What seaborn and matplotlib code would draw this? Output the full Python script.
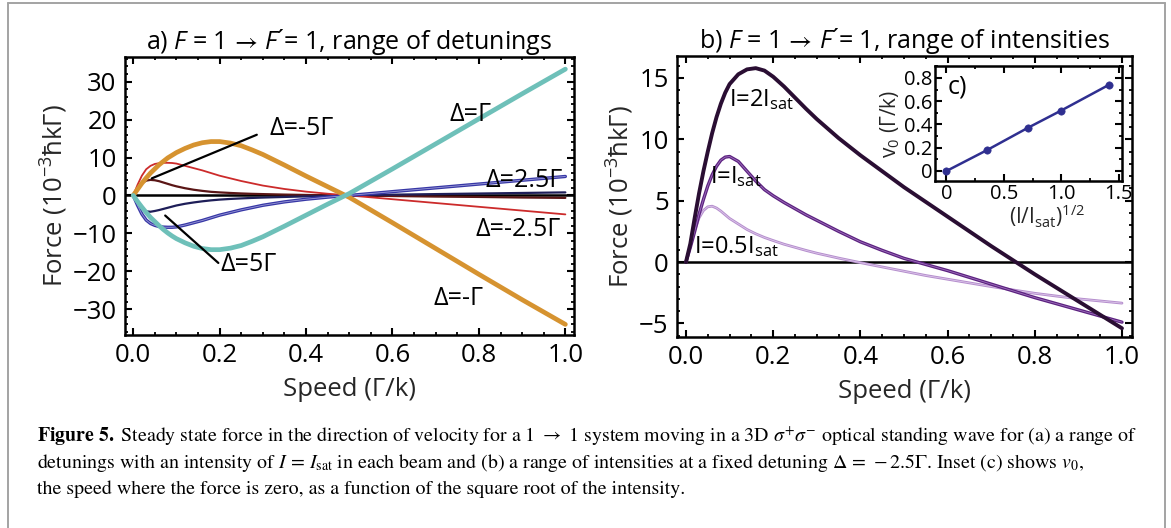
import numpy as np
import pandas as pd
import matplotlib
matplotlib.use("Agg")
import matplotlib.pyplot as plt
import seaborn as sns
from matplotlib.lines import Line2D
from matplotlib.ticker import MultipleLocator, FuncFormatter

# ---------------- data ----------------
# (a) force vs speed for several detunings, I = Isat
speed_a = [0, 0.01, 0.02, 0.03, 0.04, 0.05, 0.06, 0.07, 0.08, 0.09, 0.1, 0.12, 0.14,
           0.16, 0.18, 0.2, 0.225, 0.25, 0.275, 0.3, 0.35, 0.4, 0.45, 0.5,
           0.6, 0.7, 0.8, 0.9, 1.0]
force_det_m1 = [0, 1.6, 3.2, 4.6, 5.9, 7.0, 8.1, 9.0, 9.9, 10.6, 11.3, 12.4, 13.3,
                13.9, 14.2, 14.2, 13.8, 13.1, 12.0, 10.8, 8.0, 5.1, 2.3, -0.5,
                -7.2, -14.0, -20.8, -27.5, -34.0]
force_det_p1 = [0, -1.6, -3.1, -4.5, -5.8, -6.9, -8.0, -9.0, -9.9, -10.7, -11.4, -12.5, -13.4,
                -14.0, -14.3, -14.3, -13.9, -13.2, -12.1, -10.9, -8.1, -5.2, -2.3, 0.5,
                7.0, 13.6, 20.2, 26.8, 33.3]
force_det_m25 = [0, 2.8, 5.2, 6.9, 7.8, 8.3, 8.5, 8.6, 8.6, 8.55, 8.4, 7.8, 7.2,
                 6.6, 5.9, 5.2, 4.5, 3.8, 3.2, 2.6, 1.7, 1.0, 0.45, 0.0,
                 -1.0, -2.0, -3.0, -4.0, -5.0]
force_det_p25 = [0, -2.6, -4.9, -6.5, -7.4, -7.9, -8.2, -8.35, -8.4, -8.4, -8.3, -7.8, -7.2,
                 -6.6, -5.9, -5.2, -4.5, -3.8, -3.2, -2.6, -1.7, -1.0, -0.45, 0.0,
                 1.0, 2.0, 3.0, 4.0, 5.0]
force_det_m5 = [0, 1.8, 3.2, 3.9, 4.1, 4.0, 3.75, 3.4, 3.05, 2.7, 2.4, 1.9, 1.5,
                1.2, 0.95, 0.8, 0.65, 0.52, 0.42, 0.35, 0.22, 0.12, 0.05, 0.0,
                -0.15, -0.3, -0.4, -0.55, -0.65]
force_det_p5 = [0, -2.0, -3.5, -4.2, -4.3, -4.1, -3.85, -3.55, -3.25, -2.95, -2.65, -2.2, -1.85,
                -1.55, -1.3, -1.1, -0.92, -0.78, -0.66, -0.56, -0.4, -0.25, -0.12, 0.0,
                0.2, 0.35, 0.5, 0.65, 0.8]

# (b) force vs speed for several intensities, detuning -2.5 Gamma
speed_b = [0, 0.01, 0.02, 0.03, 0.04, 0.05, 0.06, 0.07, 0.08, 0.09, 0.1, 0.12, 0.14,
           0.16, 0.18, 0.2, 0.225, 0.25, 0.275, 0.3, 0.35, 0.4, 0.45, 0.5, 0.55,
           0.6, 0.7, 0.8, 0.9, 1.0]
force_int_2 = [0, 1.5, 3.6, 5.6, 7.4, 9.0, 10.5, 11.8, 12.9, 13.8, 14.5, 15.3, 15.7,
               15.8, 15.6, 15.1, 14.3, 13.4, 12.5, 11.65, 10.1, 8.7, 7.4, 6.1, 4.9,
               3.7, 1.3, -1.0, -3.2, -5.4]
force_int_1 = [0, 1.2, 2.5, 3.9, 5.1, 6.2, 7.1, 7.8, 8.3, 8.55, 8.6, 8.2, 7.4,
               6.6, 5.9, 5.4, 4.85, 4.35, 3.85, 3.4, 2.5, 1.65, 0.95, 0.3, -0.2,
               -0.7, -1.8, -2.9, -3.9, -4.9]
force_int_05 = [0, 1.3, 2.6, 3.6, 4.2, 4.5, 4.55, 4.4, 4.15, 3.85, 3.55, 3.1, 2.65,
                2.3, 2.0, 1.75, 1.45, 1.2, 0.95, 0.72, 0.32, -0.05, -0.4, -0.75, -1.1,
                -1.4, -2.0, -2.55, -3.0, -3.35]

# (c) zero-force speed vs square root of intensity
sqrt_intensity = [0.0, 0.354, 0.707, 1.0, 1.414]
v_zero = [0.0, 0.18, 0.37, 0.52, 0.74]

# ---------------- style ----------------
sns.set_theme(style="ticks")
plt.rcParams["font.family"] = ["Open Sans", "DejaVu Sans"]
plt.rcParams.update({
    "mathtext.fontset": "custom",
    "mathtext.rm": "Open Sans",
    "mathtext.it": "Open Sans:italic",
    "mathtext.bf": "Open Sans:bold",
    "mathtext.fallback": "stixsans",
    "axes.linewidth": 1.8,
    "axes.edgecolor": "black",
    "xtick.direction": "in", "ytick.direction": "in",
    "xtick.top": True, "ytick.right": True,
    "xtick.major.size": 5, "ytick.major.size": 5,
    "xtick.minor.size": 2.5, "ytick.minor.size": 2.5,
    "xtick.major.width": 1.5, "ytick.major.width": 1.5,
    "xtick.minor.width": 1.3, "ytick.minor.width": 1.3,
    "xtick.color": "black", "ytick.color": "black",
    "text.color": "black",
    "lines.solid_joinstyle": "round",
    "lines.solid_capstyle": "round",
})

W, H = 1171, 528
fig = plt.figure(figsize=(W / 100, H / 100), dpi=100)


def box(l, t, r, b):
    return [l / W, 1 - b / H, (r - l) / W, (b - t) / H]


ax_a = fig.add_axes(box(125, 57, 574, 335))
ax_b = fig.add_axes(box(677, 56, 1132, 337))
ax_c = fig.add_axes(box(935, 66, 1122, 181))

TICK_FS = 18.5
LABEL_FS = 18.5
TITLE_FS = 18


def minus_fmt(fmt):
    return FuncFormatter(lambda v, p: (fmt % v).replace("-", "\u2212"))


def title_text(tag, tail):
    return ("%s) $\\mathit{F}$ = 1 $\\!\\rightarrow\\!$ $\\mathit{F\u00b4}$= $\\mathit{1}$, "
            "range of %s" % (tag, tail))


# ---------------- panel a ----------------
df_a = pd.DataFrame({"speed": speed_a * 6,
                     "force": force_det_m1 + force_det_p1 + force_det_m25 + force_det_p25
                     + force_det_m5 + force_det_p5,
                     "detuning": sum([[d] * len(speed_a) for d in
                                      ["-1", "+1", "-2.5", "+2.5", "-5", "+5"]], [])})
style_a = {"-1": ("#D69330", 3.4), "+1": ("#6EC0B9", 3.4),
           "-2.5": ("#CC2B2B", 1.3), "+2.5": ("#3737A6", 2.4),
           "-5": ("#5A1616", 1.6), "+5": ("#1E1E58", 1.6)}
ax_a.axhline(0, color="black", lw=1.8, zorder=1)
for det in ["-5", "+5", "-2.5", "+2.5", "-1", "+1"]:
    col, lw = style_a[det]
    sub = df_a[df_a["detuning"] == det]
    sns.lineplot(data=sub, x="speed", y="force", ax=ax_a, color=col, lw=lw,
                 sort=False, estimator=None, zorder=3)
    if det == "+2.5":
        sns.lineplot(data=sub, x="speed", y="force", ax=ax_a, color="#9A9AD6",
                     lw=0.6, sort=False, estimator=None, zorder=3)

ax_a.set_xlim(-0.019, 1.02)
ax_a.set_ylim(-36.8, 36.5)
ax_a.xaxis.set_major_locator(MultipleLocator(0.2))
ax_a.xaxis.set_minor_locator(MultipleLocator(0.05))
ax_a.yaxis.set_major_locator(MultipleLocator(10))
ax_a.yaxis.set_minor_locator(MultipleLocator(2))
ax_a.xaxis.set_major_formatter(minus_fmt("%.1f"))
ax_a.yaxis.set_major_formatter(minus_fmt("%d"))
ax_a.tick_params(labelsize=TICK_FS, pad=6)
ax_a.tick_params(which="both", top=True, right=True)
ax_a.set_xlabel("Speed (\u0393/k)", fontsize=LABEL_FS, labelpad=6)
ax_a.set_ylabel("Force (10$^{\u22123}$\u0127k\u0393)", fontsize=LABEL_FS, labelpad=2)
ax_a.set_title(title_text("a", "detunings"), fontsize=TITLE_FS, pad=3)

ann_fs = 18
ax_a.text(0.78, 21.3, "\u0394=\u0393", fontsize=ann_fs, ha="center", va="center")
ax_a.text(0.905, 4.0, "\u0394=2.5\u0393", fontsize=ann_fs, ha="center", va="center")
ax_a.text(0.89, -9.1, "\u0394=-2.5\u0393", fontsize=ann_fs, ha="center", va="center")
ax_a.text(0.753, -27.2, "\u0394=-\u0393", fontsize=ann_fs, ha="center", va="center")
ax_a.text(0.39, 17.7, "\u0394=-5\u0393", fontsize=ann_fs, ha="center", va="center")
ax_a.text(0.268, -18.3, "\u0394=5\u0393", fontsize=ann_fs, ha="center", va="center")
# leader lines from the labels to their curves
ax_a.plot([0.286, 0.043], [16.0, 4.5], color="black", lw=1.6, zorder=4)
ax_a.plot([0.197, 0.074], [-17.8, -5.3], color="black", lw=1.6, zorder=4)

# ---------------- panel b ----------------
df_b = pd.DataFrame({"speed": speed_b * 3,
                     "force": force_int_2 + force_int_1 + force_int_05,
                     "intensity": sum([[i] * len(speed_b) for i in ["2", "1", "0.5"]], [])})
style_b = {"2": ("#2A0E33", 2.8, None), "1": ("#5C2180", 2.4, "#9E72BC"),
           "0.5": ("#B58ECD", 2.0, "#DCC6EA")}
ax_b.axhline(0, color="black", lw=1.8, zorder=1)
for inten in ["0.5", "1", "2"]:
    col, lw, inner = style_b[inten]
    sub = df_b[df_b["intensity"] == inten]
    sns.lineplot(data=sub, x="speed", y="force", ax=ax_b, color=col, lw=lw,
                 sort=False, estimator=None, zorder=3)
    if inner:
        sns.lineplot(data=sub, x="speed", y="force", ax=ax_b, color=inner, lw=0.6,
                     sort=False, estimator=None, zorder=3)

ax_b.set_xlim(-0.0206, 1.023)
ax_b.set_ylim(-6.11, 16.79)
ax_b.xaxis.set_major_locator(MultipleLocator(0.2))
ax_b.xaxis.set_minor_locator(MultipleLocator(0.05))
ax_b.yaxis.set_major_locator(MultipleLocator(5))
ax_b.yaxis.set_minor_locator(MultipleLocator(1))
ax_b.xaxis.set_major_formatter(minus_fmt("%.1f"))
ax_b.yaxis.set_major_formatter(minus_fmt("%d"))
ax_b.tick_params(labelsize=TICK_FS, pad=6)
ax_b.tick_params(which="both", top=True, right=True)
ax_b.set_xlabel("Speed (\u0393/k)", fontsize=LABEL_FS, labelpad=6)
ax_b.set_ylabel("Force (10$^{\u22123}$\u0127k\u0393)", fontsize=LABEL_FS, labelpad=2)
ax_b.set_title(title_text("b", "intensities"), fontsize=TITLE_FS, pad=3)

lab_fs = 17
ax_b.text(0.099, 12.7, "I=2I$_{\\mathrm{sat}}$", fontsize=lab_fs, ha="left", va="baseline")
ax_b.text(0.055, 6.4, "I=I$_{\\mathrm{sat}}$", fontsize=lab_fs, ha="left", va="baseline")
ax_b.text(0.018, 0.7, "I=0.5I$_{\\mathrm{sat}}$", fontsize=lab_fs, ha="left", va="baseline")

# ---------------- inset c ----------------
df_c = pd.DataFrame({"sqrtI": sqrt_intensity, "v0": v_zero})
sns.lineplot(data=df_c, x="sqrtI", y="v0", ax=ax_c, color="#2F2F90", lw=1.8,
             sort=False, estimator=None)
sns.scatterplot(data=df_c, x="sqrtI", y="v0", ax=ax_c, color="#2F2F90", s=28,
                edgecolor="#2F2F90", zorder=4)
ax_c.set_xlim(-0.1, 1.53)
ax_c.set_ylim(-0.086, 0.903)
ax_c.xaxis.set_major_locator(MultipleLocator(0.5))
ax_c.xaxis.set_minor_locator(MultipleLocator(0.25))
ax_c.yaxis.set_major_locator(MultipleLocator(0.2))
ax_c.yaxis.set_minor_locator(MultipleLocator(0.1))
ax_c.xaxis.set_major_formatter(FuncFormatter(lambda v, p: "0" if abs(v) < 1e-9 else "%.1f" % v))
ax_c.yaxis.set_major_formatter(FuncFormatter(lambda v, p: "0" if abs(v) < 1e-9 else "%.1f" % v))
ax_c.tick_params(labelsize=14.5, pad=2, length=5)
ax_c.tick_params(which="minor", length=2.5)
ax_c.tick_params(which="both", top=True, right=True)
ax_c.set_xlabel("(I/I$_{\\mathrm{sat}}$)$^{1/2}$", fontsize=15)
ax_c.xaxis.set_label_coords(0.6, -0.19)
ax_c.set_ylabel("v$_0$ (\u0393/k)", fontsize=15, labelpad=1)
ax_c.text(0.01, 0.72, "c)", fontsize=18, ha="left", va="center")

# ---------------- page frame ----------------
frame_col = "#A3A3A3"
for xs, ys in [((8, 1165), (3, 3)), ((8, 8), (3, 528)), ((1165, 1165), (3, 528))]:
    fig.add_artist(Line2D([x / W for x in xs], [1 - y / H for y in ys],
                          color=frame_col, lw=1.4, transform=fig.transFigure))

# ---------------- caption ----------------
cap_lines = [
    "$\\mathbf{Figure\\ 5.}$ Steady state force in the direction of velocity for a 1 $\\rightarrow$ 1 "
    "system moving in a 3D $\\sigma^{+}\\sigma^{-}$ optical standing wave for (a) a range of",
    "detunings with an intensity of $I\\,=\\,I_{\\mathrm{sat}}$ in each beam and (b) a range of "
    "intensities at a fixed detuning $\\Delta\\,=\\,-2.5\\Gamma$. Inset (c) shows $v_0$,",
    "the speed where the force is zero, as a function of the square root of the intensity.",
]
cap_base = [442, 468, 494]
cap_texts = []
for line, yb in zip(cap_lines, cap_base):
    t = fig.text(37 / W, 1 - yb / H, line, fontsize=13, family="STIXGeneral",
                 math_fontfamily="stix", ha="left", va="baseline")
    cap_texts.append(t)
fig.canvas.draw()
r = fig.canvas.get_renderer()
w0 = cap_texts[0].get_window_extent(r).width
scale = 1098.0 / w0
for t in cap_texts:
    t.set_fontsize(13 * scale)

fig.savefig("out.png", dpi=100)
